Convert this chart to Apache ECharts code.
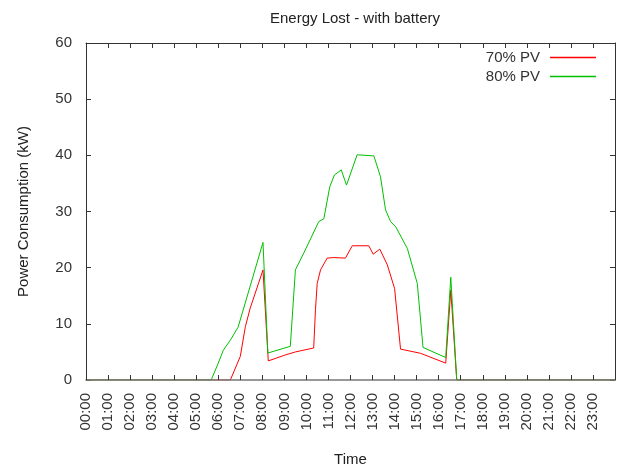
<!DOCTYPE html>
<html>
<head>
<meta charset="utf-8">
<script src="https://cdn.jsdelivr.net/npm/echarts@6/dist/echarts.min.js"></script>
<style>
html,body{margin:0;padding:0;background:#fff;}
#c{width:621px;height:467px;}
</style>
</head>
<body>
<div id="c"></div>
<script>
var hourLabels = ['00:00','01:00','02:00','03:00','04:00','05:00','06:00','07:00','08:00','09:00','10:00','11:00',
  '12:00','13:00','14:00','15:00','16:00','17:00','18:00','19:00','20:00','21:00','22:00','23:00'];

var seriesNames = ['70% PV', '80% PV'];

// [hour of day, kW]
var pv70 = [[0,0],[6.55,0],[7.0,4.2],[7.23,9.5],[7.45,12.8],[8.03,19.6],[8.27,3.4],[9.0,4.4],[9.5,5.0],
  [10.33,5.7],[10.41,12.5],[10.49,17.2],[10.64,19.6],[10.94,21.7],[11.24,21.8],[11.77,21.7],[12.08,23.9],
  [12.83,23.9],[13.03,22.4],[13.33,23.3],[13.67,20.5],[14.0,16.3],[14.27,5.5],[15.18,4.75],[16.32,3.0],
  [16.55,16.0],[16.82,0],[24,0]];

var pv80 = [[0,0],[5.68,0],[6.0,3.0],[6.23,5.3],[6.55,7.1],[6.9,9.4],[7.53,17.8],[8.03,24.5],[8.25,4.8],
  [9.27,6.0],[9.5,19.6],[9.88,22.6],[10.56,28.2],[10.79,28.7],[11.06,34.4],[11.27,36.5],[11.58,37.4],
  [11.82,34.7],[12.3,40.1],[13.06,39.9],[13.36,36.2],[13.59,30.3],[13.82,28.2],[14.05,27.3],[14.58,23.4],
  [15.03,17.2],[15.29,5.8],[16.32,4.0],[16.55,18.3],[16.82,0],[24,0]];

var FONT = 'Liberation Sans';
var FS = 15;
var chart = echarts.init(document.getElementById('c'));
var axisLine = {show:true, onZero:false, lineStyle:{color:'#333', width:1}};
var tick = {show:true, inside:true, length:5, lineStyle:{color:'#333'}};
chart.setOption({
  animation:false,
  backgroundColor:'#fff',
  textStyle:{fontFamily:FONT},
  title:{text:'Energy Lost - with battery', left:350, top:6, textAlign:'center',
    textStyle:{fontFamily:FONT, fontSize:FS, fontWeight:'normal', color:'#222'}},
  legend:{data:seriesNames, orient:'vertical', right:20, top:45, align:'right',
    icon:'rect', itemWidth:46, itemHeight:1.5, itemGap:4,
    textStyle:{fontFamily:FONT, fontSize:FS, color:'#333', padding:[0,5,0,0]}},
  grid:{left:86, right:6, top:43, bottom:87, containLabel:false, outerBoundsMode:'none'},
  xAxis:[{type:'value', min:0, max:24, interval:1, z:5,
    name:'Time', nameLocation:'middle', nameGap:72,
    nameTextStyle:{fontFamily:FONT, fontSize:FS, color:'#222'},
    axisLine:{show:true, onZero:false, lineStyle:{color:'#777', width:1.5}}, axisTick:tick, splitLine:{show:false},
    axisLabel:{rotate:90, margin:13, fontFamily:FONT, fontSize:FS, color:'#333',
      formatter:function(v){return hourLabels[v] || '';}}},
    {type:'value', min:0, max:24, interval:1, position:'top', z:5,
    axisLine:axisLine, axisTick:tick, splitLine:{show:false}, axisLabel:{show:false}}],
  yAxis:[{type:'value', min:0, max:60, interval:10,
    name:'Power Consumption (kW)', nameLocation:'middle', nameGap:55,
    nameTextStyle:{fontFamily:FONT, fontSize:FS, color:'#222'},
    axisLine:axisLine, axisTick:tick, splitLine:{show:false},
    axisLabel:{margin:14, fontFamily:FONT, fontSize:FS, color:'#333'}},
    {type:'value', min:0, max:60, interval:10, position:'right',
    axisLine:axisLine, axisTick:tick, splitLine:{show:false}, axisLabel:{show:false}}],
  series:[
    {name:seriesNames[0], type:'line', data:pv70, showSymbol:false, symbol:'none',
      lineStyle:{color:'#ff0000', width:1}, itemStyle:{color:'#ff0000'}, z:2},
    {name:seriesNames[1], type:'line', data:pv80, showSymbol:false, symbol:'none',
      lineStyle:{color:'#00c000', width:1}, itemStyle:{color:'#00c000'}, z:3}
  ]
});
</script>
</body>
</html>
